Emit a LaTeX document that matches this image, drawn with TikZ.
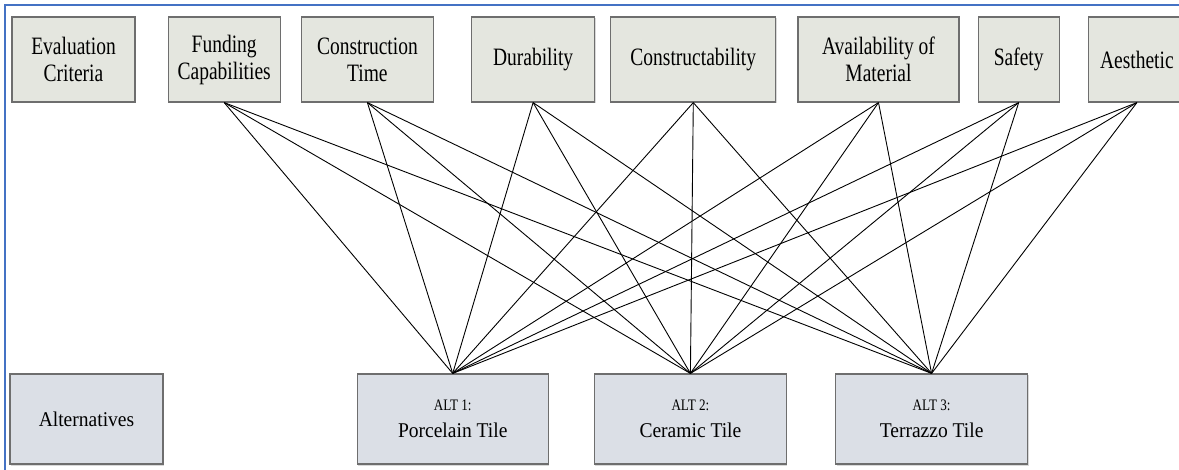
\documentclass[tikz,border=0pt]{standalone}
\usepackage{fontspec}
\setmainfont{Liberation Serif}
\newfontfamily\critfont[FakeStretch=0.78]{Liberation Serif}
\newfontfamily\altfont[FakeStretch=0.93]{Liberation Serif}
\newfontfamily\numfont[FakeStretch=0.82]{Liberation Serif}
\usepackage{tikz}
\usetikzlibrary{positioning}
\usetikzlibrary{shadows}
\definecolor{critfill}{HTML}{E4E6DF}
\definecolor{altfill}{HTML}{DBDFE6}
\definecolor{boxline}{HTML}{6E6E6E}
\definecolor{frameblue}{HTML}{4472C4}
\tikzset{basic/.style={draw=boxline,line width=1.2pt,align=center,inner sep=2pt,drop shadow={shadow xshift=1pt,shadow yshift=-1.5pt,opacity=0.3}}}
\tikzset{criterion/.style={basic,fill=critfill,minimum height=85pt,font=\critfont\fontsize{25}{27}\selectfont}}
\tikzset{alternative/.style={basic,fill=altfill,minimum height=90pt,font=\altfont\fontsize{21}{27}\selectfont}}
\tikzset{link/.style={draw,line width=0.9pt}}
\newcommand{\altnum}[1]{{\numfont\fontsize{16}{27}\selectfont #1}}

\begin{document}
\begin{tikzpicture}[x=1pt,y=1pt]
        \useasboundingbox (0,0) rectangle (1179,-470);
        \draw[frameblue,line width=2.2pt] (5,-470) -- (5,-5) -- (1179,-5);
        % alternatives
        \node[alternative,minimum width=153pt] (altern) at (86.5,-419) {Alternatives};
        \node[alternative,minimum width=191pt,right=193pt of altern] (alt1) {\altnum{ALT 1:}\\Porcelain Tile};
        \node[alternative,minimum width=192pt,right=45pt of alt1] (alt2) {\altnum{ALT 2:}\\Ceramic Tile};
        \node[alternative,minimum width=192pt,right=48pt of alt2] (alt3) {\altnum{ALT 3:}\\Terrazzo Tile};
        % criteria
        \node[criterion,minimum width=123pt] (eval) at (73.5,-59.5) {Evaluation\\Criteria};
        \node[criterion,minimum width=112pt,right=32pt of eval] (fund) {Funding\\Capabilities};
            \path[link] (fund.south) -- (alt1.north);
            \path[link] (fund.south) -- (alt2.north);
            \path[link] (fund.south) -- (alt3.north);
        \node[criterion,minimum width=132pt,right=20pt of fund] (ctime) {Construction\\Time};
            \path[link] (ctime.south) -- (alt1.north);
            \path[link] (ctime.south) -- (alt2.north);
            \path[link] (ctime.south) -- (alt3.north);
        \node[criterion,minimum width=123pt,right=37pt of ctime] (dur) {Durability};
            \path[link] (dur.south) -- (alt1.north);
            \path[link] (dur.south) -- (alt2.north);
            \path[link] (dur.south) -- (alt3.north);
        \node[criterion,minimum width=165pt,right=15pt of dur] (constr) {Constructability};
            \path[link] (constr.south) -- (alt1.north);
            \path[link] (constr.south) -- (alt2.north);
            \path[link] (constr.south) -- (alt3.north);
        \node[criterion,minimum width=161pt,right=21pt of constr] (avail) {Availability of\\Material};
            \path[link] (avail.south) -- (alt1.north);
            \path[link] (avail.south) -- (alt2.north);
            \path[link] (avail.south) -- (alt3.north);
        \node[criterion,minimum width=81pt,right=18pt of avail] (safety) {Safety};
            \path[link] (safety.south) -- (alt1.north);
            \path[link] (safety.south) -- (alt2.north);
            \path[link] (safety.south) -- (alt3.north);
        \node[criterion,minimum width=97pt,right=28pt of safety] (aesth) {Aesthetic};
            \path[link] (aesth.south) -- (alt1.north);
            \path[link] (aesth.south) -- (alt2.north);
            \path[link] (aesth.south) -- (alt3.north);
    \end{tikzpicture}
\end{document}
